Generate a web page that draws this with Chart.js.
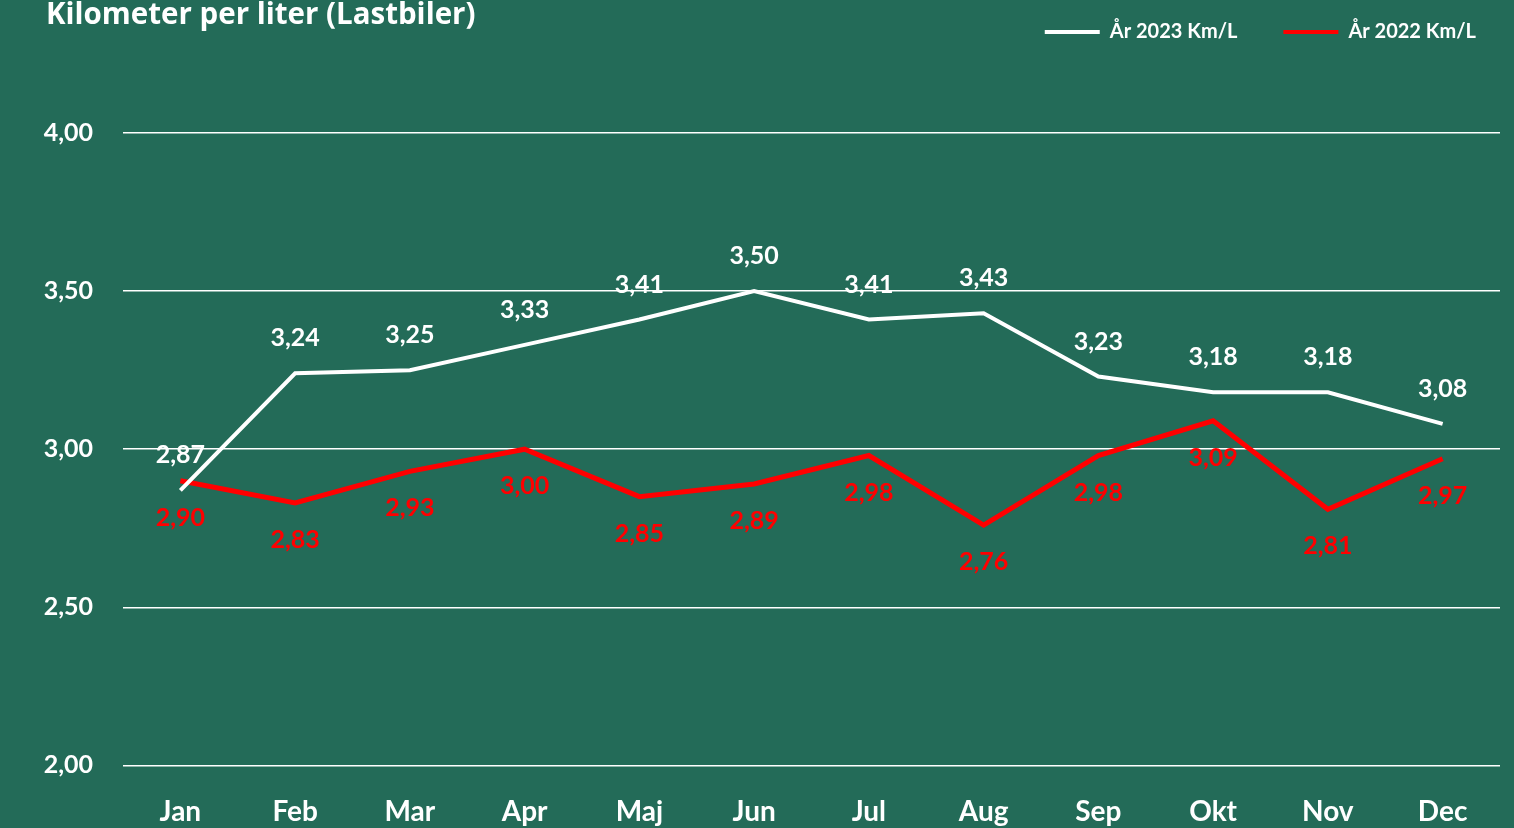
<!DOCTYPE html>
<html>
<head>
<meta charset="utf-8">
<script src="https://cdn.jsdelivr.net/npm/chart.js@4.4.1/dist/chart.umd.min.js"></script>
<style>
  html, body { margin: 0; padding: 0; background: #236B58; overflow: hidden; }
  #wrap { width: 1514px; height: 828px; position: relative; }
</style>
</head>
<body>
<div id="wrap"><canvas id="lineChart"></canvas></div>
<script>
var months = ['Jan', 'Feb', 'Mar', 'Apr', 'Maj', 'Jun', 'Jul', 'Aug', 'Sep', 'Okt', 'Nov', 'Dec'];
var km2023 = [2.87, 3.24, 3.25, 3.33, 3.41, 3.50, 3.41, 3.43, 3.23, 3.18, 3.18, 3.08];
var km2022 = [2.90, 2.83, 2.93, 3.00, 2.85, 2.89, 2.98, 2.76, 2.98, 3.09, 2.81, 2.97];
var seriesNames = ['År 2023 Km/L', 'År 2022 Km/L'];
var chartTitle = 'Kilometer per liter (Lastbiler)';

var fontFamily = 'Lato, "Noto Sans", sans-serif';

function fmt(v) {
  return v.toFixed(2).replace('.', ',');
}

// title drawn by hand so it can share the row with the legend
var titlePlugin = {
  id: 'sideTitle',
  afterDraw: function(chart) {
    var ctx = chart.ctx;
    ctx.save();
    ctx.font = 'bold 29.5px "Open Sans", sans-serif';
    ctx.fillStyle = '#ffffff';
    ctx.textAlign = 'left';
    ctx.textBaseline = 'middle';
    ctx.fillText(chartTitle, 46, 16);
    ctx.restore();
  }
};

// value labels above (2023) / below (2022) the points
var valueLabels = {
  id: 'valueLabels',
  afterDatasetsDraw: function(chart) {
    var ctx = chart.ctx;
    ctx.save();
    ctx.font = 'bold 25px ' + fontFamily;
    ctx.textAlign = 'center';
    ctx.textBaseline = 'middle';
    chart.data.datasets.forEach(function(ds, i) {
      var meta = chart.getDatasetMeta(i);
      ctx.fillStyle = ds.borderColor;
      meta.data.forEach(function(pt, j) {
        var dy = i === 0 ? -35 : 37;
        ctx.fillText(fmt(ds.data[j]), pt.x, pt.y + dy);
      });
    });
    ctx.restore();
  }
};

// push the plot down below the legend row, nudge the legend to the right
var legendSpace = {
  id: 'legendSpace',
  beforeInit: function(chart) {
    var legend = chart.legend;
    var fit = legend.fit;
    legend.fit = function() {
      fit.bind(legend)();
      this.height += 81;
    };
    var draw = legend.draw;
    legend.draw = function() {
      chart.ctx.save();
      chart.ctx.translate(22, 0);
      draw.apply(legend, arguments);
      chart.ctx.restore();
    };
  }
};

var ctx = document.getElementById('lineChart').getContext('2d');
new Chart(ctx, {
  type: 'line',
  data: {
    labels: months,
    datasets: [{
      label: seriesNames[0],
      data: km2023,
      borderColor: '#ffffff',
      backgroundColor: '#ffffff',
      borderWidth: 4,
      pointRadius: 0,
      tension: 0
    }, {
      label: seriesNames[1],
      data: km2022,
      borderColor: '#ff0000',
      backgroundColor: '#ff0000',
      borderWidth: 5,
      pointRadius: 0,
      tension: 0
    }]
  },
  options: {
    responsive: true,
    maintainAspectRatio: false,
    animation: false,
    layout: { padding: { top: -24, right: 14, left: 0, bottom: -31 } },
    plugins: {
      tooltip: { enabled: false },
      legend: {
        position: 'top',
        align: 'end',
        labels: {
          color: '#ffffff',
          boxWidth: 55,
          boxHeight: 4,
          padding: 46,
          font: { family: fontFamily, size: 20, weight: 'bold' },
          generateLabels: function(chart) {
            var items = Chart.defaults.plugins.legend.labels.generateLabels(chart);
            items.forEach(function(it) { it.lineWidth = 0; });
            return items;
          }
        }
      }
    },
    scales: {
      x: {
        offset: true,
        grid: { display: false, drawTicks: false },
        border: { display: false },
        ticks: {
          color: '#ffffff',
          padding: 30,
          font: { family: fontFamily, size: 28, weight: 'bold' }
        }
      },
      y: {
        min: 2,
        max: 4,
        afterFit: function(scale) { scale.width = 123; },
        grid: { color: '#ffffff', lineWidth: 1.5, drawTicks: false },
        border: { display: false },
        ticks: {
          stepSize: 0.5,
          color: '#ffffff',
          padding: 30,
          font: { family: fontFamily, size: 25, weight: 'bold' },
          callback: function(v) { return fmt(v); }
        }
      }
    }
  },
  plugins: [titlePlugin, valueLabels, legendSpace]
});
</script>
</body>
</html>
